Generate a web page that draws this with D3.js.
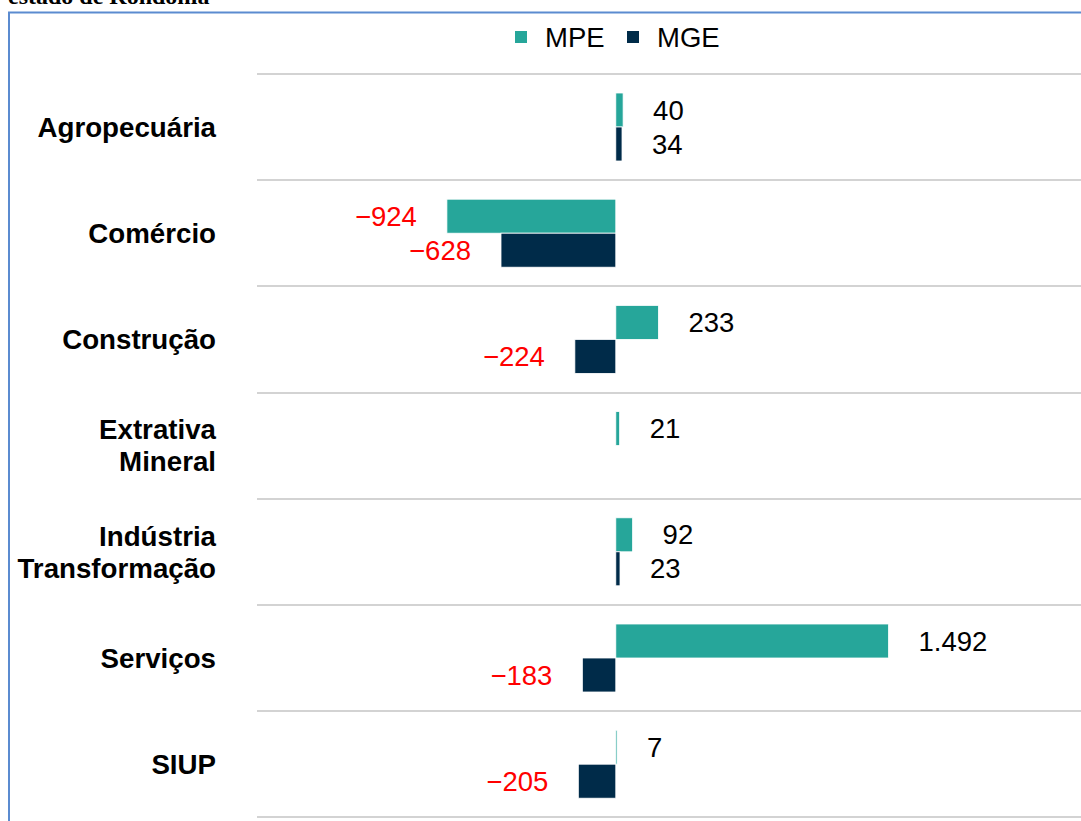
<!DOCTYPE html>
<html>
<head>
<meta charset="utf-8">
<script src="https://cdn.jsdelivr.net/npm/d3@7"></script>
<style>
  body { margin: 0; background: #fff; }
  svg { display: block; font-family: "Liberation Sans", Arial, sans-serif; }
</style>
</head>
<body>
<div id="chart"></div>
<script>
// data
var categories = ["Agropecuária", "Comércio", "Construção", "Extrativa Mineral", "Indústria Transformação", "Serviços", "SIUP"];
var series = ["MPE", "MGE"];
var mpe = [40, -924, 233, 21, 92, 1492, 7];
var mge = [34, -628, -224, null, 23, -183, -205];
var colors = ["#26a69a", "#002b49"];

var width = 1081, height = 821;

var svg = d3.select("#chart")
  .append("svg")
    .attr("width", width)
    .attr("height", height);

// caption cut off above the frame
svg.append("text")
  .attr("x", 8)
  .attr("y", 4)
  .attr("font-family", "Liberation Serif, serif")
  .attr("font-weight", "bold")
  .attr("font-size", 24)
  .attr("fill", "#000")
  .text("estado de Rondônia");

// frame
svg.append("rect")
  .attr("x", 9)
  .attr("y", 12.5)
  .attr("width", 1100)
  .attr("height", 900)
  .attr("fill", "none")
  .attr("stroke", "#5b8bd0")
  .attr("stroke-width", 2);

var locale = d3.formatLocale({decimal: ",", thousands: ".", grouping: [3], currency: ["R$", ""], minus: "\u2212"});
var fmt = locale.format(",d");

// scales
var x = d3.scaleLinear()
  .domain([-1000, 1500])
  .range([433, 890]);

var y = d3.scaleBand()
  .domain(categories)
  .range([74, 74 + 7 * 106.2]);

var ySub = d3.scaleBand()
  .domain(series)
  .range([19, 87]);

// gridlines at band edges
var edges = categories.map(function(c) { return y(c); }).concat([y.range()[1]]);
svg.append("g")
  .selectAll("line")
  .data(edges)
  .enter()
  .append("line")
    .attr("x1", 257)
    .attr("x2", width)
    .attr("y1", function(d) { return Math.round(d); })
    .attr("y2", function(d) { return Math.round(d); })
    .attr("stroke", "#d3d3d3")
    .attr("stroke-width", 2);

// category labels
var labels = svg.append("g")
  .selectAll("text")
  .data(categories)
  .enter()
  .append("text")
    .attr("text-anchor", "end")
    .attr("font-size", 27.7)
    .attr("font-weight", "bold")
    .attr("fill", "#000");

labels.each(function(d) {
  var lines = d.split(" ");
  var cy = y(d) + y.bandwidth() / 2;
  var t = d3.select(this);
  lines.forEach(function(l, i) {
    t.append("tspan")
      .attr("x", 216)
      .attr("y", cy + (i - (lines.length - 1) / 2) * 32)
      .attr("dy", "0.35em")
      .text(l);
  });
});

// bars
var rows = [];
categories.forEach(function(c, i) {
  rows.push({cat: c, s: "MPE", v: mpe[i], color: colors[0]});
  rows.push({cat: c, s: "MGE", v: mge[i], color: colors[1]});
});
rows = rows.filter(function(d) { return d.v !== null; });

svg.append("g")
  .selectAll("rect")
  .data(rows)
  .enter()
  .append("rect")
    .attr("x", function(d) { return Math.min(x(0), x(d.v)); })
    .attr("y", function(d) { return y(d.cat) + ySub(d.s); })
    .attr("width", function(d) { return Math.abs(x(d.v) - x(0)); })
    .attr("height", ySub.bandwidth())
    .attr("fill", function(d) { return d.color; })
    .attr("stroke", "#ffffff")
    .attr("stroke-width", 0.8);

// value labels
svg.append("g")
  .selectAll("text")
  .data(rows)
  .enter()
  .append("text")
    .attr("x", function(d) { return d.v < 0 ? x(d.v) - 30 : x(d.v) + 30; })
    .attr("y", function(d) { return y(d.cat) + ySub(d.s) + ySub.bandwidth() / 2; })
    .attr("dy", "0.35em")
    .attr("text-anchor", function(d) { return d.v < 0 ? "end" : "start"; })
    .attr("font-size", 27.5)
    .attr("fill", function(d) { return d.v < 0 ? "#ff0000" : "#000"; })
    .text(function(d) { return fmt(d.v); });

// legend
var legend = svg.append("g")
  .selectAll("g")
  .data(series)
  .enter()
  .append("g")
    .attr("transform", function(d, i) { return "translate(" + (515 + i * 112) + ",31)"; });

legend.append("rect")
  .attr("width", 12)
  .attr("height", 12)
  .attr("fill", function(d, i) { return colors[i]; });

legend.append("text")
  .attr("x", 30)
  .attr("y", 6)
  .attr("dy", "0.35em")
  .attr("font-size", 27.5)
  .attr("fill", "#000")
  .text(function(d) { return d; });
</script>
</body>
</html>
